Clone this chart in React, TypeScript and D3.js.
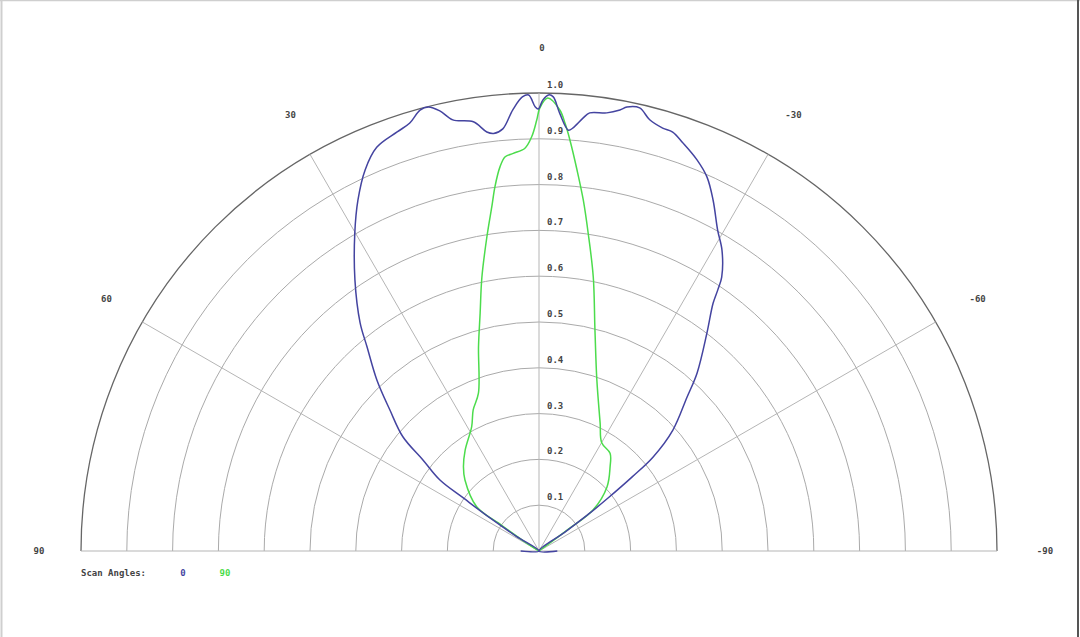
import React from 'react';
import * as d3 from 'd3';

const ringValues = [0.1, 0.2, 0.3, 0.4, 0.5, 0.6, 0.7, 0.8, 0.9, 1.0];
const ringLabels = ['0.1', '0.2', '0.3', '0.4', '0.5', '0.6', '0.7', '0.8', '0.9', '1.0'];
const spokeAngles = [90, 60, 30, 0, -30, -60, -90];
const angleLabels = ['90', '60', '30', '0', '-30', '-60', '-90'];
const legendTitle = 'Scan Angles:';
const seriesNames = ['0', '90'];

// Scan angle 0 (blue): angle in degrees (positive = left), normalised radius
const blueAngles = [90, 58, 57, 56, 55, 54.4, 51.9, 50, 46.6, 43.5, 40.1, 38.1, 34.2, 30.1, 27.3, 24.5, 21.9, 18.7, 16.8, 15.1, 14.0, 12.7, 11.3, 8.7, 7.1, 6.2, 4.9, 3.4, 2.1, 1.3, 0.5, 0.1, -0.5, -1.2, -1.8, -2.7, -4.0, -4.6, -5.8, -6.6, -8.8, -10.4, -11.2, -12.8, -14.4, -16.3, -17.7, -19.4, -22.0, -24.2, -26.4, -29.1, -31.3, -33.7, -34.4, -35.1, -37.6, -41.6, -43.9, -47.9, -50.5, -51.5, -52.5, -53.3, -54, -55, -90];
const blueRadii = [0.04, 0, 0.06, 0.13, 0.2, 0.266, 0.322, 0.388, 0.448, 0.514, 0.583, 0.633, 0.715, 0.802, 0.862, 0.915, 0.95, 0.966, 0.976, 0.997, 0.999, 0.985, 0.96, 0.948, 0.922, 0.917, 0.925, 0.965, 0.992, 0.996, 0.97, 0.965, 0.985, 0.996, 0.992, 0.957, 0.921, 0.927, 0.95, 0.963, 0.968, 0.979, 0.988, 0.992, 0.972, 0.962, 0.96, 0.945, 0.921, 0.895, 0.855, 0.802, 0.769, 0.719, 0.691, 0.661, 0.601, 0.52, 0.466, 0.394, 0.323, 0.26, 0.19, 0.139, 0.07, 0, 0.04];

// Scan angle 90 (green)
const greenAngles = [58, 57, 55.5, 54.6, 46.2, 41.9, 36.2, 28.4, 25.0, 21.0, 16.5, 13.9, 11.8, 9.4, 7.8, 6.9, 5.8, 4.9, 3.7, 2.0, 1.0, 0.3, -0.1, -1.1, -2.7, -3.5, -4.3, -5.7, -7.2, -8.8, -11.2, -14.2, -18.7, -25.5, -30.1, -36.0, -40.1, -46.7, -52.8, -53.5, -55];
const greenRadii = [0, 0.04, 0.1, 0.167, 0.224, 0.247, 0.273, 0.309, 0.34, 0.369, 0.465, 0.535, 0.61, 0.696, 0.759, 0.801, 0.843, 0.864, 0.87, 0.88, 0.905, 0.941, 0.967, 0.989, 0.964, 0.935, 0.9, 0.836, 0.772, 0.702, 0.61, 0.498, 0.394, 0.31, 0.273, 0.264, 0.241, 0.204, 0.148, 0.08, 0];

const W = 1080;
const H = 637;
const cx = 539;
const cy = 551;
const R = 458;
const FONT = '"DejaVu Sans Mono", monospace';

export default function App() {
  const r = d3.scaleLinear().domain([0, 1]).range([0, R]);
  const toRad = (deg: number) => (-deg * Math.PI) / 180;
  const line = d3
    .lineRadial<[number, number]>()
    .angle((d) => toRad(d[0]))
    .radius((d) => r(d[1]))
    .curve(d3.curveCatmullRom.alpha(0.5));

  const bluePts: [number, number][] = blueAngles.map((a, i) => [a, blueRadii[i]]);
  const greenPts: [number, number][] = greenAngles.map((a, i) => [a, greenRadii[i]]);

  const ringPath = (v: number) => {
    const p = d3.path();
    const rad = r(v);
    p.moveTo(-rad, 0);
    p.arc(0, 0, rad, Math.PI, 2 * Math.PI);
    return p.toString();
  };

  return (
    <svg width={W} height={H} style={{ position: 'absolute', left: 0, top: 0, background: '#fff' }}>
      <rect x={0} y={0} width={W} height={H} fill="#fff" />
      <line x1={1.5} y1={0} x2={1.5} y2={H} stroke="#cfcfcf" strokeWidth={2} />
      <line x1={0} y1={0.5} x2={W} y2={0.5} stroke="#cfcfcf" strokeWidth={1.5} />
      <line x1={1078} y1={0} x2={1078} y2={H} stroke="#555" strokeWidth={2} />
      <g transform={`translate(${cx},${cy})`}>
        {ringValues.map((v, i) => (
          <path
            key={'ring' + i}
            d={ringPath(v)}
            fill="none"
            stroke={v === 1 ? '#666' : '#aaa'}
            strokeWidth={v === 1 ? 1.3 : 1}
          />
        ))}
        {spokeAngles.map((a, i) => {
          const [x, y] = d3.pointRadial(toRad(a), r(1));
          return <line key={'sp' + i} x1={0} y1={0} x2={x} y2={y} stroke="#b5b5b5" strokeWidth={1} />;
        })}
        {ringValues.map((v, i) => (
          <text
            key={'rl' + i}
            x={8}
            y={-r(v) - 5}
            fontFamily={FONT}
            fontSize={9}
            fontWeight="bold"
            fill="#444"
          >
            {ringLabels[i]}
          </text>
        ))}
        {spokeAngles.map((a, i) => {
          const [x, y] = d3.pointRadial(toRad(a), R + 45);
          return (
            <text
              key={'al' + i}
              x={x + 3}
              y={y}
              textAnchor="middle"
              dominantBaseline="middle"
              fontFamily={FONT}
              fontSize={9}
              fontWeight="bold"
              fill="#444"
            >
              {angleLabels[i]}
            </text>
          );
        })}
        <path d={line(greenPts) || ''} fill="none" stroke="#4cdc4c" strokeWidth={1.5} />
        <path d={line(bluePts) || ''} fill="none" stroke="#4444a0" strokeWidth={1.5} />
      </g>
      <text x={81} y={573} dominantBaseline="middle" fontFamily={FONT} fontSize={9} fontWeight="bold" fill="#444">
        {legendTitle}
      </text>
      <text x={183} y={573} textAnchor="middle" dominantBaseline="middle" fontFamily={FONT} fontSize={9} fontWeight="bold" fill="#4444a0">
        {seriesNames[0]}
      </text>
      <text x={225} y={573} textAnchor="middle" dominantBaseline="middle" fontFamily={FONT} fontSize={9} fontWeight="bold" fill="#4cdc4c">
        {seriesNames[1]}
      </text>
    </svg>
  );
}
